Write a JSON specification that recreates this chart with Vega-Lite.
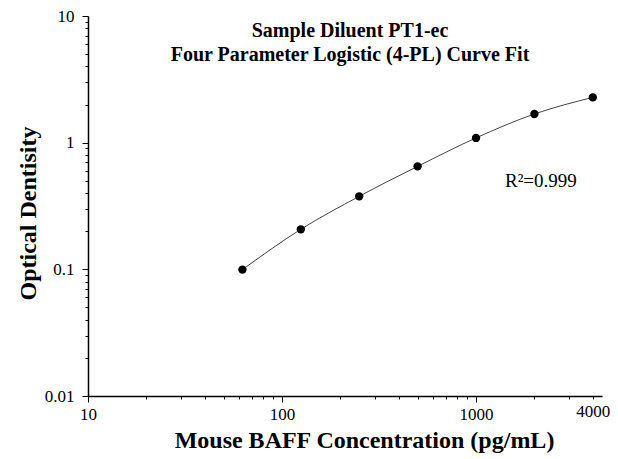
{
  "$schema": "https://vega.github.io/schema/vega-lite/v6.json",
  "autosize": "none",
  "padding": {"left": 88, "top": 16, "right": 16, "bottom": 63},
  "width": 514,
  "height": 380,
  "background": "white",
  "config": {
    "view": {"stroke": null},
    "font": "Liberation Serif"
  },
  "title": {
    "text": ["Sample Diluent PT1-ec", "Four Parameter Logistic (4-PL) Curve Fit"],
    "font": "Liberation Serif",
    "fontSize": 20,
    "fontWeight": "bold",
    "color": "black",
    "lineHeight": 24,
    "anchor": "middle",
    "offset": -58,
    "dx": 5
  },
  "data": {
    "values": [
      {"conc": 62.5, "od": 0.0995},
      {"conc": 125, "od": 0.207},
      {"conc": 250, "od": 0.377},
      {"conc": 500, "od": 0.65},
      {"conc": 1000, "od": 1.09},
      {"conc": 2000, "od": 1.685},
      {"conc": 4000, "od": 2.278}
    ]
  },
  "encoding": {
    "x": {
      "field": "conc",
      "type": "quantitative",
      "scale": {"type": "log", "domain": [10, 4460], "nice": false},
      "axis": {
        "title": "Mouse BAFF Concentration (pg/mL)",
        "titleFont": "Liberation Serif",
        "titleFontSize": 24,
        "titleFontWeight": "bold",
        "titleColor": "black",
        "titleX": 276,
        "titleY": 44,
        "titleAlign": "center",
        "titleBaseline": "middle",
        "grid": false,
        "values": [10, 20, 30, 40, 50, 60, 70, 80, 90, 100, 200, 300, 400, 500, 600, 700, 800, 900, 1000, 2000, 3000, 4000],
        "labelExpr": "datum.value == 10 ? '10' : datum.value == 100 ? '100' : datum.value == 1000 ? '1000' : datum.value == 4000 ? '4000' : ''",
        "labelFont": "Liberation Serif",
        "labelFontSize": 17,
        "labelColor": "black",
        "labelPadding": 4,
        "labelFlush": false,
        "labelOverlap": false,
        "tickColor": "black",
        "tickSize": {"condition": {"test": "datum.value == 10 || datum.value == 100 || datum.value == 1000", "value": 6}, "value": 3},
        "domainColor": "black",
        "domainWidth": 1.5
      }
    },
    "y": {
      "field": "od",
      "type": "quantitative",
      "scale": {"type": "log", "domain": [0.01, 10], "nice": false},
      "axis": {
        "title": "Optical Dentisity",
        "titleFont": "Liberation Serif",
        "titleFontSize": 24,
        "titleFontWeight": "bold",
        "titleColor": "black",
        "titleAngle": -90,
        "titleX": -60,
        "titleY": 197,
        "titleAlign": "center",
        "titleBaseline": "middle",
        "grid": false,
        "values": [0.01, 0.02, 0.03, 0.04, 0.05, 0.06, 0.07, 0.08, 0.09, 0.1, 0.2, 0.3, 0.4, 0.5, 0.6, 0.7, 0.8, 0.9, 1, 2, 3, 4, 5, 6, 7, 8, 9, 10],
        "labelExpr": "datum.value == 0.01 ? '0.01' : datum.value == 0.1 ? '0.1' : datum.value == 1 ? '1' : datum.value == 10 ? '10' : ''",
        "labelFont": "Liberation Serif",
        "labelFontSize": 17,
        "labelColor": "black",
        "labelPadding": 8,
        "labelFlush": false,
        "labelOverlap": false,
        "tickColor": "black",
        "tickSize": {"condition": {"test": "datum.value == 0.01 || datum.value == 0.1 || datum.value == 1 || datum.value == 10", "value": 6}, "value": 3},
        "domainColor": "black",
        "domainWidth": 1.5
      }
    }
  },
  "layer": [
    {
      "mark": {"type": "line", "interpolate": "monotone", "color": "#444444", "strokeWidth": 1}
    },
    {
      "mark": {"type": "circle", "color": "black", "opacity": 1, "size": 70}
    },
    {
      "transform": [{"filter": "datum.conc == 62.5"}],
      "mark": {"type": "text", "font": "Liberation Serif", "fontSize": 19, "color": "black", "align": "center", "baseline": "middle", "text": "R²=0.999"},
      "encoding": {
        "x": {"datum": 2160},
        "y": {"datum": 0.5}
      }
    }
  ]
}
